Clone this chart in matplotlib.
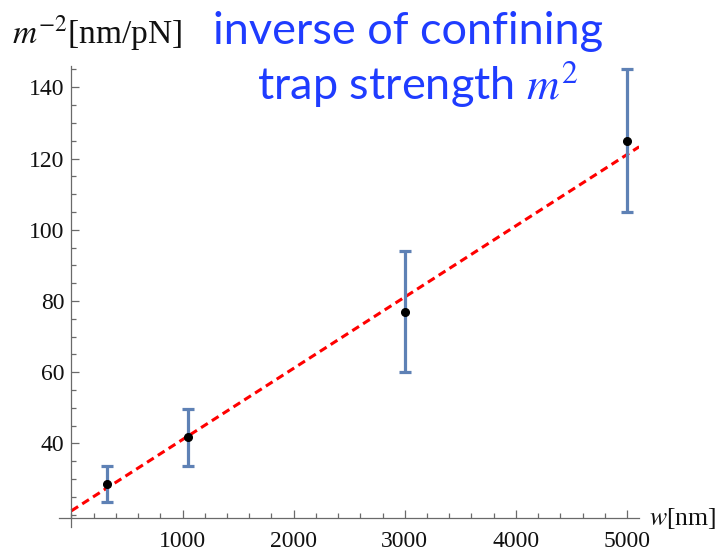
import numpy as np
import matplotlib
matplotlib.use("Agg")
import matplotlib.pyplot as plt
from matplotlib.ticker import MultipleLocator, FixedLocator

# measured widths w [nm] and inverse trap strength m^-2 [nm/pN]
w_nm = [320, 1050, 3000, 5000]
m_inv2 = [28.6, 41.7, 77.0, 125.0]
m_err = [5.0, 8.0, 17.0, 20.0]

# linear fit drawn as dashed line
fit_intercept = 21.1
fit_slope = 0.0200

x_major = [1000, 2000, 3000, 4000, 5000]
y_major = [40, 60, 80, 100, 120, 140]

plt.rcParams["mathtext.fontset"] = "stix"
serif = ["Liberation Serif", "DejaVu Serif"]
axis_gray = "#6a6a6a"

fig = plt.figure(figsize=(7.21, 5.51), dpi=100)
ax = fig.add_axes([0.0821, 0.0432, 0.8044, 0.8372])

ax.set_xlim(-110, 5110)
ax.set_ylim(16.5, 146)

for side in ["top", "right"]:
    ax.spines[side].set_visible(False)
ax.spines["left"].set_position(("data", 0))
ax.spines["bottom"].set_position(("data", 19))
for side in ["left", "bottom"]:
    ax.spines[side].set_color(axis_gray)
    ax.spines[side].set_linewidth(0.9)

ax.xaxis.set_major_locator(FixedLocator(x_major))
ax.xaxis.set_minor_locator(MultipleLocator(200))
ax.yaxis.set_major_locator(FixedLocator(y_major))
ax.yaxis.set_minor_locator(MultipleLocator(5))
ax.tick_params(which="both", direction="in", color=axis_gray, width=0.9)
ax.tick_params(which="major", length=6)
ax.tick_params(which="minor", length=3.5)
ax.tick_params(axis="x", which="major", pad=9)
ax.tick_params(axis="y", which="major", pad=5)
for lab in ax.get_xticklabels() + ax.get_yticklabels():
    lab.set_family(serif)
    lab.set_fontsize(17)
    lab.set_color("#111111")

xs = np.linspace(0, 5110, 2)
ax.plot(xs, fit_intercept + fit_slope * xs, color="#ff0000", lw=2.2,
        linestyle=(0, (2.6, 1.6)), zorder=2)

ax.errorbar(w_nm, m_inv2, yerr=m_err, fmt="none", ecolor="#5e81b5",
            elinewidth=2.3, capsize=4.5, capthick=2.3, zorder=3)
ax.plot(w_nm, m_inv2, "o", color="black", ms=5.5, zorder=4)

fig.text(12 / 721, 1 - 43 / 551, r"$m^{-2}$[nm/pN]", fontsize=24,
         family=serif, color="#111111", ha="left", va="baseline")
fig.text(213 / 721, 1 - 44 / 551, "inverse of confining", fontsize=32.5,
         family="Lato", color="#1f3cff", ha="left", va="baseline")
fig.text(579 / 721, 1 - 100 / 551, r"trap strength $m^2$", fontsize=32.5,
         family="Lato", color="#1f3cff", ha="right", va="baseline")
fig.text(716 / 721, 1 - 525 / 551, r"$w$[nm]", fontsize=18.5,
         family=serif, color="#111111", ha="right", va="baseline")

fig.savefig("out.png", dpi=100)
